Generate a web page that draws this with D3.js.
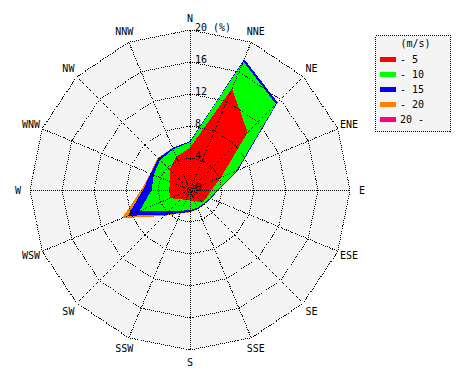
<!DOCTYPE html>
<html><head><meta charset="utf-8">
<script src="https://cdn.jsdelivr.net/npm/d3@7"></script>
<style>
html,body{margin:0;padding:0;background:#fff;}
svg{display:block;}
text{font-family:"DejaVu Sans Mono",monospace;font-size:10px;fill:#000;}
</style></head>
<body>
<svg id="chart" width="470" height="380"></svg>
<script>
const directions = ["N","NNE","NE","ENE","E","ESE","SE","SSE","S","SSW","SW","WSW","W","WNW","NW","NNW"];
const speedClasses = ["- 5","- 10","- 15","- 20","20 -"];
const classColors = ["#ff0000","#00ff00","#0000ff","#ff8000","#ff0080"];
// frequency (%) of each speed class per direction
const freq0to5   = [5.3,13.7,10.2,4.2,2.7,2.3,2.2,1.5,1.3,1.4,1.6,2.7,2.6,2.7,3.6,4.5];
const freq5to10  = [0.7,3.7,5.0,2.1,0.7,0.4,0.2,0.9,1.2,1.4,2.2,4.1,2.2,2.2,1.7,1.0];
const freq10to15 = [0.1,0.3,0.3,0.2,0.15,0.15,0.15,0.2,0.25,0.3,0.6,1.6,1.1,0.4,0.3,0.2];
const freq15to20 = [0,0,0,0,0,0,0,0,0.05,0.1,0.2,0.8,0.2,0.1,0.1,0];
const freq20up   = [0,0,0,0,0,0,0,0,0,0,0,0,0,0,0,0];
const ringTicks = [0,4,8,12,16,20];
const tickLabels = ["0","4","8","12","16","20 (%)"];
const unitLabel = "(m/s)";

const series = [freq0to5,freq5to10,freq10to15,freq15to20,freq20up];
const cumulative = series.map((s,k)=>directions.map((d,i)=>d3.sum(series.slice(0,k+1),a=>a[i])));

const cx=190, cy=190;
const r = d3.scaleLinear().domain([0,20]).range([0,160]);
const ang = d3.scaleLinear().domain([0,directions.length]).range([0,2*Math.PI]);
const svg = d3.select("#chart");
const g = svg.append("g").attr("transform",`translate(${cx},${cy})`);

const ringLine = d3.lineRadial().angle((d,i)=>ang(i)).radius(d=>r(d)).curve(d3.curveLinearClosed);

// background
g.append("path").attr("d",ringLine(directions.map(()=>20))).attr("fill","#f4f4f4").attr("stroke","none");

// data polygons, outermost first
for(let k=series.length-1;k>=0;k--){
  g.append("path").attr("d",ringLine(cumulative[k])).attr("fill",classColors[k]).attr("stroke","none")
   .attr("shape-rendering","crispEdges");
}

// grid rings
ringTicks.slice(1).forEach(t=>{
  g.append("path").attr("d",ringLine(directions.map(()=>t))).attr("fill","none")
   .attr("stroke","#000").attr("stroke-width",1).attr("stroke-dasharray","1,1").attr("shape-rendering","crispEdges");
});
// spokes
directions.forEach((d,i)=>{
  const a=ang(i);
  g.append("line").attr("x1",0).attr("y1",0)
   .attr("x2",r(20)*Math.sin(a)).attr("y2",-r(20)*Math.cos(a))
   .attr("stroke","#000").attr("stroke-width",1).attr("stroke-dasharray","1,1").attr("shape-rendering","crispEdges");
});
// direction labels
directions.forEach((d,i)=>{
  const a=ang(i), rr=172;
  g.append("text").attr("x",rr*Math.sin(a)).attr("y",-rr*Math.cos(a))
   .attr("text-anchor","middle").attr("dominant-baseline","central").text(d);
});
// tick labels
ringTicks.forEach((t,i)=>{
  g.append("text").attr("x",5).attr("y",-r(t)-3).attr("dominant-baseline","central").text(tickLabels[i]);
});

// legend
const lg = svg.append("g").attr("transform","translate(375.5,35.5)");
lg.append("rect").attr("width",75).attr("height",96).attr("fill","#f4f4f4")
  .attr("stroke","#000").attr("stroke-dasharray","1,1").attr("shape-rendering","crispEdges");
lg.append("text").attr("x",40).attr("y",8).attr("text-anchor","middle").attr("dominant-baseline","central").text(unitLabel);
speedClasses.forEach((s,k)=>{
  const y=24+k*15;
  lg.append("rect").attr("x",4.5).attr("y",y-2.5).attr("width",16).attr("height",5).attr("fill",classColors[k]).attr("stroke","none");
  lg.append("text").attr("x",24.5).attr("y",y).attr("dominant-baseline","central").text(s);
});
</script>
</body></html>
